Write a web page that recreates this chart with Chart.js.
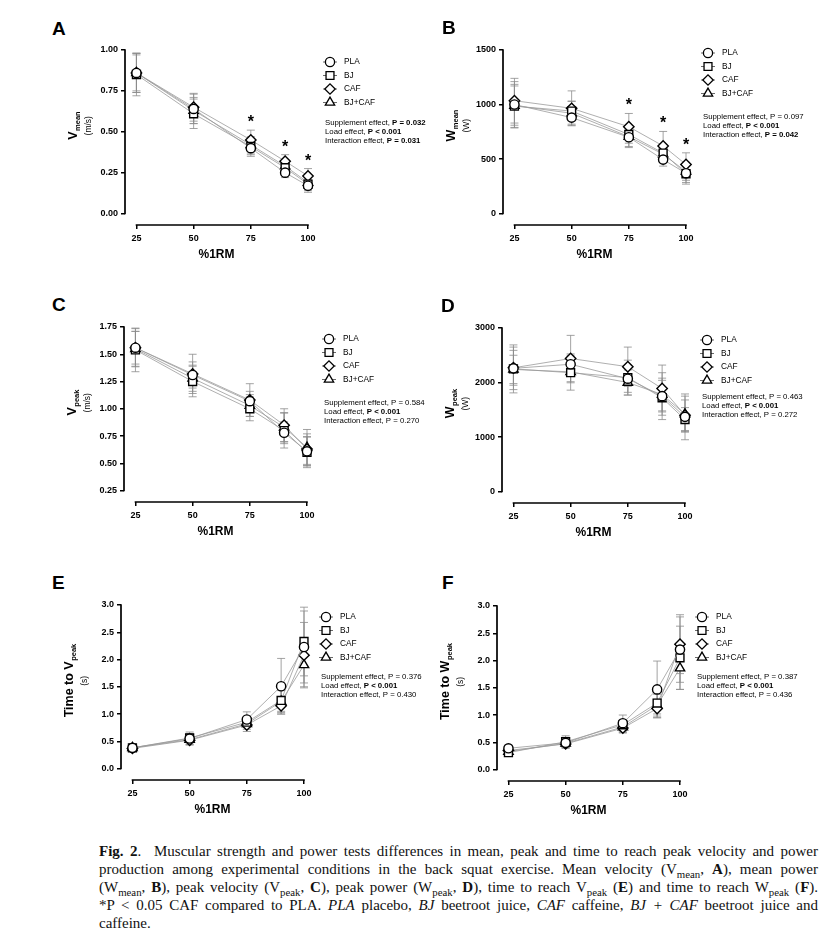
<!DOCTYPE html>
<html>
<head>
<meta charset="utf-8">
<script src="https://cdn.jsdelivr.net/npm/chart.js@4.4.1/dist/chart.umd.min.js"></script>
<style>
  body { margin: 0; width: 836px; height: 944px; background: #fff; position: relative; overflow: hidden; font-family: 'Liberation Sans', Arial, sans-serif; }
  canvas { position: absolute; }
  .letter { position: absolute; font: bold 19px 'Liberation Sans', Arial, sans-serif; line-height: 19px; }
  .caption { position: absolute; left: 99px; top: 842px; width: 719px; font: 15px 'Liberation Serif', 'Times New Roman', serif; line-height: 18px; color: #111; }
  .caption div { text-align: justify; text-align-last: justify; white-space: nowrap; }
  .caption div.last { text-align-last: left; }
  .caption sub { font-size: 0.72em; vertical-align: -0.4em; line-height: 0; }
</style>
</head>
<body>
<div class="caption">
  <div><b>Fig. 2</b>.&nbsp; Muscular strength and power tests differences in mean, peak and time to reach peak velocity and power</div>
  <div>production among experimental conditions in the back squat exercise. Mean velocity (V<sub>mean</sub>, <b>A</b>), mean power</div>
  <div>(W<sub>mean</sub>, <b>B</b>), peak velocity (V<sub>peak</sub>, <b>C</b>), peak power (W<sub>peak</sub>, <b>D</b>), time to reach V<sub>peak</sub> (<b>E</b>) and time to reach W<sub>peak</sub> (<b>F</b>).</div>
  <div>*P &lt; 0.05 CAF compared to PLA. <i>PLA</i> placebo, <i>BJ</i> beetroot juice, <i>CAF</i> caffeine, <i>BJ + CAF</i> beetroot juice and</div>
  <div class="last">caffeine.</div>
</div>
<script>
// loads (%1RM) and groups
const loads = [25, 50, 75, 90, 100];
const loadTicks = [25, 50, 75, 100];
const groups = ['PLA', 'BJ', 'CAF', 'BJ+CAF'];

// A - mean velocity (m/s), one row per group
const vMean = [
  [0.86, 0.64, 0.40, 0.25, 0.17],
  [0.85, 0.61, 0.41, 0.28, 0.18],
  [0.86, 0.65, 0.45, 0.32, 0.23],
  [0.86, 0.63, 0.42, 0.29, 0.19],
];
const vMeanSd = [
  [0.12, 0.09, 0.05, 0.03, 0.04],
  [0.13, 0.09, 0.05, 0.04, 0.04],
  [0.12, 0.085, 0.06, 0.04, 0.045],
  [0.11, 0.08, 0.05, 0.04, 0.04],
];
const vMeanTicks = [0, 0.25, 0.5, 0.75, 1];
const vMeanStats = [['Supplement effect', 'P = 0.032', true], ['Load effect', 'P < 0.001', true], ['Interaction effect', 'P = 0.031', true]];
const vMeanSig = [75, 90, 100];

// B - mean power (W)
const wMean = [
  [1000, 880, 700, 495, 370],
  [985, 940, 725, 555, 365],
  [1035, 965, 796, 620, 450],
  [990, 920, 705, 545, 385],
];
const wMeanSd = [
  [210, 60, 95, 60, 100],
  [200, 90, 80, 80, 80],
  [205, 160, 122, 133, 107],
  [180, 110, 90, 80, 80],
];
const wMeanTicks = [0, 500, 1000, 1500];
const wMeanStats = [['Supplement effect', 'P = 0.097', false], ['Load effect', 'P < 0.001', true], ['Interaction effect', 'P = 0.042', true]];
const wMeanSig = [75, 90, 100];

// C - peak velocity (m/s)
const vPeak = [
  [1.56, 1.31, 1.07, 0.78, 0.61],
  [1.54, 1.25, 1.00, 0.80, 0.60],
  [1.56, 1.32, 1.08, 0.85, 0.63],
  [1.55, 1.28, 1.03, 0.83, 0.645],
];
const vPeakSd = [
  [0.175, 0.12, 0.09, 0.10, 0.135],
  [0.20, 0.14, 0.11, 0.16, 0.14],
  [0.15, 0.18, 0.15, 0.15, 0.14],
  [0.16, 0.12, 0.10, 0.135, 0.165],
];
const vPeakTicks = [0.25, 0.5, 0.75, 1, 1.25, 1.5, 1.75];
const vPeakStats = [['Supplement effect', 'P = 0.584', false], ['Load effect', 'P < 0.001', true], ['Interaction effect', 'P = 0.270', false]];

// D - peak power (W)
const wPeak = [
  [2260, 2335, 2070, 1750, 1370],
  [2250, 2180, 2090, 1720, 1320],
  [2270, 2440, 2290, 1890, 1400],
  [2240, 2195, 2000, 1780, 1420],
];
const wPeakSd = [
  [390, 190, 250, 430, 420],
  [440, 320, 320, 320, 220],
  [320, 425, 360, 430, 280],
  [260, 200, 230, 300, 330],
];
const wPeakTicks = [0, 1000, 2000, 3000];
const wPeakStats = [['Supplement effect', 'P = 0.463', false], ['Load effect', 'P < 0.001', true], ['Interaction effect', 'P = 0.272', false]];

// E - time to peak velocity (s)
const tVpeak = [
  [0.38, 0.55, 0.90, 1.51, 2.23],
  [0.38, 0.56, 0.85, 1.25, 2.33],
  [0.37, 0.52, 0.80, 1.15, 2.08],
  [0.38, 0.53, 0.82, 1.23, 1.90],
];
const tVpeakSd = [
  [0.05, 0.12, 0.14, 0.51, 0.66],
  [0.05, 0.08, 0.10, 0.20, 0.63],
  [0.04, 0.08, 0.12, 0.15, 0.60],
  [0.05, 0.08, 0.10, 0.20, 0.40],
];
const tVpeakStats = [['Supplement effect', 'P = 0.376', false], ['Load effect', 'P < 0.001', true], ['Interaction effect', 'P = 0.430', false]];

// F - time to peak power (s)
const tWpeak = [
  [0.39, 0.49, 0.85, 1.47, 2.20],
  [0.31, 0.51, 0.82, 1.22, 2.05],
  [0.35, 0.47, 0.76, 1.12, 2.30],
  [0.33, 0.48, 0.78, 1.18, 1.86],
];
const tWpeakSd = [
  [0.05, 0.10, 0.15, 0.52, 0.60],
  [0.05, 0.11, 0.10, 0.20, 0.58],
  [0.04, 0.07, 0.09, 0.17, 0.54],
  [0.05, 0.07, 0.10, 0.20, 0.39],
];
const timeTicks = [0, 0.5, 1, 1.5, 2, 2.5, 3];
const tWpeakStats = [['Supplement effect', 'P = 0.387', false], ['Load effect', 'P < 0.001', true], ['Interaction effect', 'P = 0.436', false]];

const FONT = "'Liberation Sans', Arial, sans-serif";
Chart.defaults.font.family = FONT;
Chart.defaults.color = '#000';

const shapes = ['circle', 'rect', 'rectRot', 'triangle'];
const radii = [4.6, 5.6, 5.2, 5.4];

// ax = pixel of the y axis, top = pixel of the highest y tick
const panels = [
  { id: 'A', mean: vMean, sd: vMeanSd, ticks: vMeanTicks, dec: 2, stats: vMeanStats, sig: vMeanSig,
    title: ['V', 'mean', '(m/s)'], ax: 125, top: 50, leg: 12, st: 73, lx: 52, ly: 19 },
  { id: 'B', mean: wMean, sd: wMeanSd, ticks: wMeanTicks, dec: 0, stats: wMeanStats, sig: wMeanSig,
    title: ['W', 'mean', '(W)'], ax: 503, top: 50, leg: 3, st: 67, lx: 442, ly: 18 },
  { id: 'C', mean: vPeak, sd: vPeakSd, ticks: vPeakTicks, dec: 2, stats: vPeakStats, sig: [],
    title: ['V', 'peak', '(m/s)'], ax: 124, top: 327, leg: 12, st: 76, lx: 52, ly: 295 },
  { id: 'D', mean: wPeak, sd: wPeakSd, ticks: wPeakTicks, dec: 0, stats: wPeakStats, sig: [],
    title: ['W', 'peak', '(W)'], ax: 502, top: 328, leg: 12, st: 69, lx: 441, ly: 296 },
  { id: 'E', mean: tVpeak, sd: tVpeakSd, ticks: timeTicks, dec: 1, stats: tVpeakStats, sig: [],
    title: ['Time to V', 'peak', '(s)'], ax: 121, top: 605, leg: 12, st: 72, lx: 52, ly: 573 },
  { id: 'F', mean: tWpeak, sd: tWpeakSd, ticks: timeTicks, dec: 1, stats: tWpeakStats, sig: [],
    title: ['Time to W', 'peak', '(s)'], ax: 497, top: 606, leg: 11, st: 71, lx: 442, ly: 573 },
];

function figPlugin(p) {
  return {
    id: 'fig' + p.id,
    beforeDatasetsDraw(chart) {
      const { ctx, chartArea: a, scales: { x, y } } = chart;
      ctx.save();
      // Prism style detached axes
      ctx.strokeStyle = '#000';
      ctx.lineWidth = 1.7;
      ctx.beginPath();
      ctx.moveTo(a.left, y.getPixelForValue(p.ticks[0]) + 0.75);
      ctx.lineTo(a.left, y.getPixelForValue(p.ticks[p.ticks.length - 1]) - 0.75);
      ctx.moveTo(x.getPixelForValue(loadTicks[0]) - 0.75, a.bottom);
      ctx.lineTo(x.getPixelForValue(loadTicks[loadTicks.length - 1]) + 0.75, a.bottom);
      ctx.stroke();
      // error bars (SD)
      ctx.strokeStyle = '#8c8c8c';
      ctx.lineWidth = 0.8;
      p.mean.forEach((row, k) => row.forEach((m, i) => {
        const px = x.getPixelForValue(loads[i]);
        const hi = y.getPixelForValue(m + p.sd[k][i]);
        const lo = y.getPixelForValue(m - p.sd[k][i]);
        ctx.beginPath();
        ctx.moveTo(px, hi); ctx.lineTo(px, lo);
        ctx.moveTo(px - 4, hi); ctx.lineTo(px + 4, hi);
        ctx.moveTo(px - 4, lo); ctx.lineTo(px + 4, lo);
        ctx.stroke();
      }));
      ctx.restore();
    },
    afterDraw(chart) {
      const { ctx, chartArea: a, scales: { x, y } } = chart;
      ctx.save();
      ctx.textAlign = 'left';
      ctx.textBaseline = 'middle';

      // legend
      groups.forEach((g, k) => {
        const cy = a.top + p.leg + k * 13.5;
        const cx = a.right + 22;
        ctx.strokeStyle = '#444';
        ctx.lineWidth = 0.8;
        ctx.beginPath(); ctx.moveTo(cx - 7, cy); ctx.lineTo(cx + 7, cy); ctx.stroke();
        ctx.fillStyle = '#fff';
        ctx.strokeStyle = '#000';
        ctx.lineWidth = 1.3;
        Chart.helpers.drawPoint(ctx, { pointStyle: shapes[k], radius: radii[k], rotation: 0, borderWidth: 1.3 }, cx, cy);
        ctx.fillStyle = '#000';
        ctx.font = '8.3px ' + FONT;
        ctx.fillText(g, cx + 14, cy);
      });

      // statistics
      p.stats.forEach(([lab, val, bold], j) => {
        const sy = a.top + p.st + j * 9;
        let sx = a.right + 17;
        ctx.font = '7.8px ' + FONT;
        const t = lab + ', ';
        ctx.fillText(t, sx, sy);
        sx += ctx.measureText(t).width;
        ctx.font = (bold ? 'bold ' : '') + '7.8px ' + FONT;
        ctx.fillText(val, sx, sy);
      });

      // significance marks above CAF
      ctx.font = 'bold 16px ' + FONT;
      ctx.textAlign = 'center';
      ctx.textBaseline = 'alphabetic';
      p.sig.forEach((l) => {
        const i = loads.indexOf(l);
        const py = y.getPixelForValue(p.mean[2][i] + p.sd[2][i]) - 12;
        ctx.fillText('*', x.getPixelForValue(l), py + 9);
      });

      // y axis title
      const cyT = (y.getPixelForValue(p.ticks[0]) + y.getPixelForValue(p.ticks[p.ticks.length - 1])) / 2 - 6;
      ctx.translate(a.left - 51, cyT);
      ctx.rotate(-Math.PI / 2);
      ctx.textBaseline = 'middle';
      ctx.textAlign = 'left';
      ctx.font = 'bold 12.5px ' + FONT;
      const w1 = ctx.measureText(p.title[0]).width;
      ctx.font = 'bold 7.5px ' + FONT;
      const w2 = ctx.measureText(p.title[1]).width;
      const s = -(w1 + w2) / 2;
      ctx.font = 'bold 12.5px ' + FONT;
      ctx.fillText(p.title[0], s, 0);
      ctx.font = 'bold 7.5px ' + FONT;
      ctx.fillText(p.title[1], s + w1 + 0.5, 3.5);
      ctx.font = '8.5px ' + FONT;
      ctx.textAlign = 'center';
      ctx.fillText(p.title[2], 0, 15);
      ctx.restore();
    },
  };
}

function buildPanel(p) {
  const letter = document.createElement('div');
  letter.className = 'letter';
  letter.textContent = p.id;
  letter.style.left = p.lx + 'px';
  letter.style.top = p.ly + 'px';
  document.body.appendChild(letter);

  const canvas = document.createElement('canvas');
  canvas.width = 400;
  canvas.height = 242;
  canvas.style.left = (p.ax - 80) + 'px';
  canvas.style.top = (p.top - 22) + 'px';
  document.body.appendChild(canvas);

  const lo = p.ticks[0];
  const hi = p.ticks[p.ticks.length - 1];
  const tickGrid = { drawOnChartArea: false, drawTicks: true, tickLength: 4, color: '#000', lineWidth: 1.5 };

  new Chart(canvas, {
    type: 'line',
    data: {
      datasets: groups.map((g, k) => ({
        label: g,
        data: loads.map((l, i) => ({ x: l, y: p.mean[k][i] })),
        borderColor: '#9a9a9a',
        borderWidth: 0.8,
        pointStyle: shapes[k],
        pointRadius: radii[k],
        pointBorderColor: '#000',
        pointBackgroundColor: '#fff',
        pointBorderWidth: 1.4,
        tension: 0,
        clip: false,
      })),
    },
    options: {
      responsive: false,
      animation: false,
      layout: { padding: { left: 0, top: 22, right: 137, bottom: 0 } },
      plugins: { legend: { display: false }, tooltip: { enabled: false } },
      scales: {
        x: {
          type: 'linear',
          min: 20,
          max: 100,
          afterBuildTicks: (s) => { s.ticks = loadTicks.map((v) => ({ value: v })); },
          afterFit: (s) => { s.height = 45; },
          grid: tickGrid,
          border: { display: false },
          ticks: { font: { size: 9, weight: 'bold' }, padding: 4, maxRotation: 0, autoSkip: false },
          title: { display: true, text: '%1RM', font: { size: 12, weight: 'bold' }, padding: { top: 0, bottom: 8 } },
        },
        y: {
          type: 'linear',
          min: lo - (hi - lo) * 0.07,
          max: hi,
          afterBuildTicks: (s) => { s.ticks = p.ticks.map((v) => ({ value: v })); },
          afterFit: (s) => { s.width = 80; },
          grid: tickGrid,
          border: { display: false },
          ticks: { font: { size: 9, weight: 'bold' }, padding: 3, callback: (v) => Number(v).toFixed(p.dec) },
        },
      },
    },
    plugins: [figPlugin(p)],
  });
}

panels.forEach(buildPanel);
</script>
</body>
</html>
